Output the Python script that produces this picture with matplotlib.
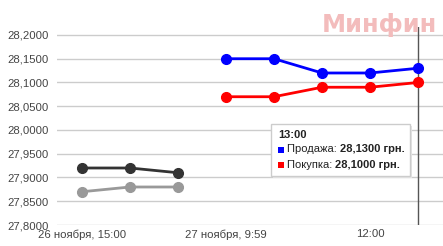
import numpy as np
import matplotlib.pyplot as plt
from matplotlib.patches import Rectangle

# data
x_prev = [0, 1, 2]
sell_prev = [27.92, 27.92, 27.91]
buy_prev = [27.87, 27.88, 27.88]
x_cur = [3, 4, 5, 6, 7]
sell_cur = [28.15, 28.15, 28.12, 28.12, 28.13]
buy_cur = [28.07, 28.07, 28.09, 28.09, 28.10]
yticks = [27.80, 27.85, 27.90, 27.95, 28.00, 28.05, 28.10, 28.15, 28.20]
xtick_pos = [0, 3, 6]
xtick_labels = ['26 ноября, 15:00', '27 ноября, 9:59', '12:00']

plt.rcParams['font.family'] = ['Liberation Sans', 'DejaVu Sans']

fig = plt.figure(figsize=(4.43, 2.46), dpi=100)
ax = fig.add_axes([57 / 443, 21 / 246, 386 / 443, 198 / 246])

for y in yticks:
    ax.axhline(y, color='#cccccc', lw=1, zorder=0)

ms = 7
ax.plot(x_prev, sell_prev, '-o', color='#333333', lw=2, ms=ms, zorder=3)
ax.plot(x_prev, buy_prev, '-o', color='#999999', lw=2, ms=ms, zorder=3)
ax.plot(x_cur, sell_cur, '-o', color='#0000ff', lw=2, ms=ms, zorder=3)
ax.plot(x_cur, buy_cur, '-o', color='#ff0000', lw=2, ms=ms, zorder=3)

ax.axvline(7, color='#555555', lw=1, zorder=2)

ax.set_xlim(-0.52, 7.52)
ax.set_ylim(27.8, 28.2168)
ax.set_yticks(yticks)
ax.set_yticklabels([f'{v:.4f}'.replace('.', ',') for v in yticks])
ax.set_xticks(xtick_pos)
ax.set_xticklabels(xtick_labels)
ax.tick_params(length=0, labelsize=8.2, colors='#444444', pad=6)
ax.tick_params(axis='x', pad=3)
for s in ax.spines.values():
    s.set_visible(False)

# watermark
fig.text(437 / 443, 1 - 32 / 246, 'Минфин', ha='right', va='baseline',
         fontsize=17.5, fontweight='bold', color='#f3bcbc', zorder=1,
         family='DejaVu Sans')

# tooltip
box_l, box_b, box_w, box_h = 271 / 443, 1 - 176 / 246, 139 / 443, 52 / 246
fig.patches.append(Rectangle((box_l + 0.004, box_b - 0.008), box_w, box_h,
                             transform=fig.transFigure, facecolor='#e4e4e4',
                             edgecolor='none', zorder=4))
fig.patches.append(Rectangle((box_l, box_b), box_w, box_h,
                             transform=fig.transFigure, facecolor='white',
                             edgecolor='#cccccc', lw=1, zorder=5))
tx = 278 / 443
fig.text(tx, 1 - 135 / 246, '13:00', fontsize=8, fontweight='bold',
         color='#222222', va='center', zorder=6)
rows = [('Продажа: ', '28,1300 грн.', '#0000ff', 149.5),
        ('Покупка: ', '28,1000 грн.', '#ff0000', 164.5)]
for label, val, col, py in rows:
    fig.patches.append(Rectangle((tx, 1 - (py + 3) / 246), 6 / 443, 6 / 246,
                                 transform=fig.transFigure, facecolor=col,
                                 edgecolor='none', zorder=6))
    t = fig.text(287 / 443, 1 - py / 246, label, fontsize=8, color='#222222',
                 va='center', zorder=6)
    fig.canvas.draw()
    bb = t.get_window_extent()
    fig.text(bb.x1 / 443, 1 - py / 246, val, fontsize=8, fontweight='bold',
             color='#222222', va='center', zorder=6)

fig.savefig('out.png', dpi=100)
